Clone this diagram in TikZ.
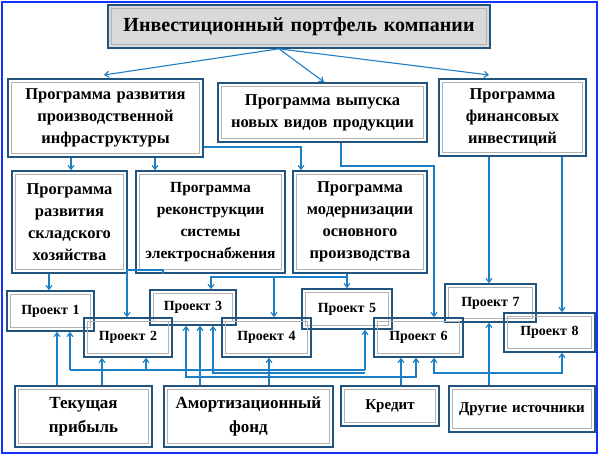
\documentclass[tikz,border=0pt]{standalone}
\usepackage{fontspec}
\setmainfont{Liberation Serif}
\usetikzlibrary{arrows.meta}
\definecolor{bcol}{RGB}{34,84,128}
\definecolor{ccol}{RGB}{28,126,196}
\definecolor{fcol}{RGB}{20,50,255}
\begin{document}
\begin{tikzpicture}[x=1pt,y=-1pt,
 box/.style={draw=bcol,line width=1.6pt,inner sep=0pt,align=center,font=\bfseries\fontsize{16.5}{22}\selectfont,
  path picture={\draw[gray!60,line width=0.9pt] ([shift={(3.5pt,-3.5pt)}]path picture bounding box.north west) rectangle ([shift={(-3.5pt,3.5pt)}]path picture bounding box.south east);}},
 pr/.style={box,font=\bfseries\fontsize{14}{16}\selectfont},
 arr/.style={draw=ccol,line width=1.1pt,-{Straight Barb[length=4pt,width=6pt]}},
 ln/.style={draw=ccol,line width=1.1pt}]
\useasboundingbox (0,0) rectangle (600,457);
\draw[fcol,line width=2pt] (2,2) rectangle (597,453);
\node[box,fill=gray!30,minimum width=382,minimum height=43,text width=375,font=\bfseries\fontsize{20}{22}\selectfont] (title) at (299,26.5) {Инвестиционный портфель компании};
\node[box,minimum width=195,minimum height=78,text width=190] (A) at (105.5,118) {Программа развития\\производственной\\инфраструктуры};
\node[box,minimum width=209,minimum height=59,text width=205] (B) at (322.5,112.5) {Программа выпуска\\новых видов продукции};
\node[box,minimum width=147,minimum height=77,text width=140] (C) at (512.5,117.5) {Программа\\финансовых\\инвестиций};
\node[box,minimum width=115,minimum height=102,text width=112] (D) at (69.5,222) {Программа\\развития\\складского\\хозяйства};
\node[box,minimum width=149,minimum height=102,text width=147,font=\bfseries\fontsize{15.5}{22}\selectfont] (E) at (210.5,222) {Программа\\реконструкции\\системы\\электроснабжения};
\node[box,minimum width=134,minimum height=102,text width=130] (F) at (360,222) {Программа\\модернизации\\основного\\производства};
\node[pr,minimum width=87,minimum height=40,text width=80] (P1) at (50.5,311) {Проект 1};
\node[pr,minimum width=86,minimum height=35,text width=80] (P3) at (193,307.5) {Проект 3};
\node[pr,minimum width=90,minimum height=40,text width=80] (P5) at (347,309) {Проект 5};
\node[pr,minimum width=91,minimum height=38,text width=80] (P7) at (490.5,303) {Проект 7};
\node[pr,minimum width=88,minimum height=39,text width=80] (P2) at (128,337.5) {Проект 2};
\node[pr,minimum width=89,minimum height=39,text width=80] (P4) at (266.5,337.5) {Проект 4};
\node[pr,minimum width=89,minimum height=39,text width=80] (P6) at (418.5,337.5) {Проект 6};
\node[pr,minimum width=91,minimum height=39,text width=80] (P8) at (549.5,332.5) {Проект 8};
\node[box,minimum width=137,minimum height=61,text width=130,font=\bfseries\fontsize{17}{24}\selectfont] (T) at (83.5,416.5) {Текущая\\прибыль};
\node[box,minimum width=169,minimum height=61,text width=165,font=\bfseries\fontsize{17}{24}\selectfont] (Am) at (248.5,416.5) {Амортизационный\\фонд};
\node[box,minimum width=98,minimum height=40,text width=90,font=\bfseries\fontsize{15}{18}\selectfont] (K) at (390,406) {Кредит};
\node[box,minimum width=146,minimum height=46,text width=142,font=\bfseries\fontsize{15}{18}\selectfont] (Dr) at (522,409) {Другие источники};
% title arrows
\draw[arr] ([xshift=-20pt]title.south) -- (104,75);
\draw[arr] ([xshift=-20pt]title.south) -- (324,82);
\draw[arr] ([xshift=-20pt]title.south) -- (489,75);
% level 2 -> 3
\draw[arr] (71,0 |- A.south) -- (71,0 |- D.north);
\draw[arr] (155,0 |- A.south) -- (155,0 |- E.north);
\draw[arr] (A.east |- 0,147) -| (301,0 |- F.north);
\draw[arr] (341,0 |- B.south) |- (434,166) -- (434,0 |- P6.north);
\draw[arr] (489,0 |- C.south) -- (489,0 |- P7.north);
\draw[arr] (562,0 |- C.south) -- (562,0 |- P8.north);
% level 3 -> projects
\draw[arr] (49,0 |- D.south) -- (49,0 |- P1.north);
\draw[arr] (163,0 |- E.south) |- (127,270) -- (127,0 |- P2.north);
\draw[arr] (347,0 |- F.south) -- (347,0 |- P5.north);
\draw[arr] (347,277) -| (211,0 |- P3.north);
\draw[arr] (274,277) -- (274,0 |- P4.north);
% sources
\draw[arr] (57,0 |- T.north) -- (57,0 |- P1.south);
\draw[arr] (102,0 |- T.north) -- (102,0 |- P2.south);
\draw[arr] (200,0 |- Am.north) -- (200,0 |- P3.south);
\draw[arr] (269,0 |- Am.north) -- (269,0 |- P4.south);
\draw[arr] (401,0 |- K.north) -- (401,0 |- P6.south);
\draw[arr] (489,0 |- Dr.north) -- (489,0 |- P7.south);
\draw[arr] (146,370) -- (146,0 |- P2.south);
\draw[arr] (70,370) -- (70,0 |- P1.south);
\draw[ln] (70,370) -- (365,370);
\draw[arr] (365,370) -- (365,0 |- P5.south);
\draw[arr] (365,373) -| (213,0 |- P3.south);
\draw[arr] (416,377) -| (186,0 |- P3.south);
\draw[arr] (186,377) -| (416,0 |- P6.south);
\draw[arr] (562,373) -| (434,0 |- P6.south);
\draw[arr] (434,373) -| (562,0 |- P8.south);
\end{tikzpicture}
\end{document}
